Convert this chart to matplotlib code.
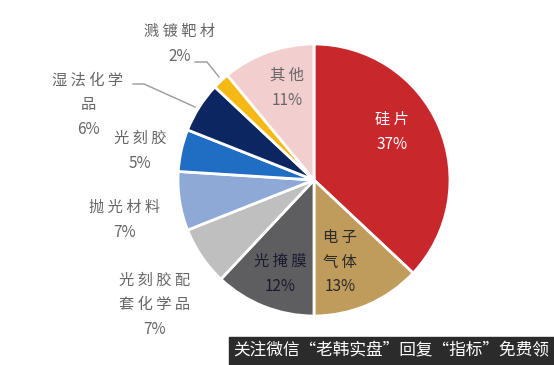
import matplotlib
matplotlib.use('Agg')
import matplotlib.pyplot as plt

plt.rcParams['font.family'] = ['Noto Sans CJK SC', 'DejaVu Sans']

# slices, clockwise from 12 o'clock
names = ['硅片', '电子\n气体', '光掩膜', '光刻胶配\n套化学品', '抛光材料', '光刻胶', '湿法化学\n品', '溅镀靶材', '其他']
shares = [37, 13, 12, 7, 7, 5, 6, 2, 11]
colors = ['#C8282C', '#BF9B5C', '#5E5E60', '#BFBFBF', '#8EA9D6', '#1F6EC4', '#0B2660', '#F6B914', '#F2CECE']
# label centres in pixel coords (x, y from top) and text colour
label_pos = [(392, 132), (340, 262), (280, 274), (155, 305), (125, 220), (140, 151), (88, 105), (180, 44), (287, 88)]
label_col = ['white', '#2a2a2a', '#1a1a30', '#666666', '#666666', '#666666', '#666666', '#666666', '#666666']

W, H = 554, 365
fig = plt.figure(figsize=(W / 100, H / 100), dpi=100)
ax = fig.add_axes([0, 0, 1, 1])

ax.pie(shares, colors=colors, startangle=90, counterclock=False,
       center=(314, H - 180), radius=136,
       wedgeprops=dict(edgecolor='white', linewidth=2))

for n, s, (x, y), c in zip(names, shares, label_pos, label_col):
    spaced = '\n'.join(' '.join(line) for line in n.split('\n'))
    ax.text(x, H - y, f'{spaced}\n{s}%', ha='center', va='center', color=c,
            fontsize=11, linespacing=1.6)

# leader lines for the two small slices
ax.plot([195, 207, 219], [H - 62, H - 62, H - 77], color='#9a9a9a', lw=1)
ax.plot([133, 144, 195], [H - 84, H - 84, H - 107], color='#9a9a9a', lw=1)

# watermark bar
ax.add_patch(plt.Rectangle((229, 0), W - 229, H - 337, color='#2b2b2b', zorder=5))
ax.text(391, (H - 337) / 2, '关注微信“老韩实盘”回复“指标”免费领', ha='center', va='center',
        color='white', fontsize=12, zorder=6)

ax.set_xlim(0, W)
ax.set_ylim(0, H)
ax.set_aspect('equal')
ax.axis('off')

fig.savefig('out.png', dpi=100)
